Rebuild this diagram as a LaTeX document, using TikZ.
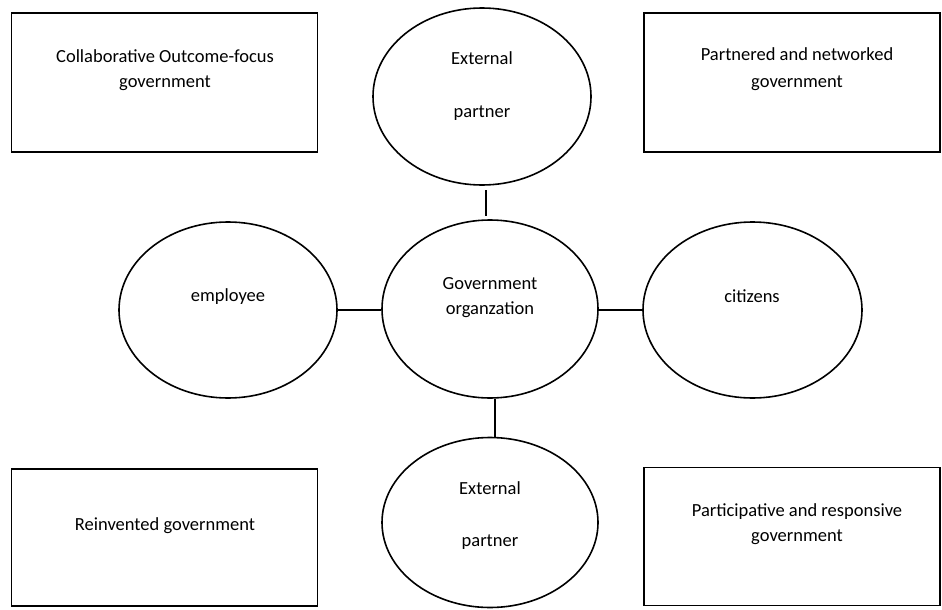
\documentclass[tikz,border=0pt]{standalone}
\usepackage{fontspec}
\setmainfont{Carlito}
\usetikzlibrary{shapes.geometric}
\tikzset{
  box/.style={draw, line width=1.9pt, inner sep=0pt},
  oval/.style={draw, ellipse, line width=1.6pt, inner sep=0pt},
  lbl/.style={anchor=base, inner sep=0pt, font=\fontsize{18.5}{25}\selectfont},
  link/.style={line width=1.7pt}
}
\begin{document}
\begin{tikzpicture}[x=1pt,y=-1pt]
\useasboundingbox (0,0) rectangle (942,610);
% rectangles
\node[box, minimum width=306pt, minimum height=139pt] (tl) at (164.5,82.5) {};
\node[box, minimum width=296pt, minimum height=139pt] (tr) at (792,82.5) {};
\node[box, minimum width=306pt, minimum height=137pt] (bl) at (164.5,537.5) {};
\node[box, minimum width=296pt, minimum height=138pt] (br) at (792,536.5) {};
\node[lbl] (tlt1) at (165,63) {Collaborative Outcome-focus};
\node[lbl] (tlt2) at (165,88) {government};
\node[lbl] (trt1) at (797,61) {Partnered and networked};
\node[lbl] (trt2) at (797,87) {government};
\node[lbl] (blt) at (165,530) {Reinvented government};
\node[lbl] (brt1) at (797,516) {Participative and responsive};
\node[lbl] (brt2) at (797,541) {government};
% ellipses
\node[oval, minimum width=218pt, minimum height=177pt] (top) at (482,96.5) {};
\node[oval, minimum width=218pt, minimum height=176pt] (left) at (228,310) {};
\node[oval, minimum width=216pt, minimum height=178pt] (mid) at (490,309) {};
\node[oval, minimum width=219pt, minimum height=176pt] (right) at (752.5,310) {};
\node[oval, minimum width=216pt, minimum height=170pt] (bot) at (490,522.5) {};
\node[lbl] (topt1) at (482,65) {External};
\node[lbl] (topt2) at (482,117) {partner};
\node[lbl] (leftt) at (228,301) {employee};
\node[lbl] (midt1) at (490,289) {Government};
\node[lbl] (midt2) at (490,314) {organzation};
\node[lbl] (rightt) at (752,302) {citizens};
\node[lbl] (bott1) at (490,494) {External};
\node[lbl] (bott2) at (490,546) {partner};
% connectors
\coordinate (c1a) at (486,190);
\coordinate (c1b) at (486,216);
\draw[link] (c1a) -- (c1b);
\draw[link] (left.east) -- (mid.west |- left.east);
\draw[link] (mid.east |- right.west) -- (right.west);
\draw[link] (mid.south -| 495,0) -- (bot.north -| 495,0);
\end{tikzpicture}
\end{document}
